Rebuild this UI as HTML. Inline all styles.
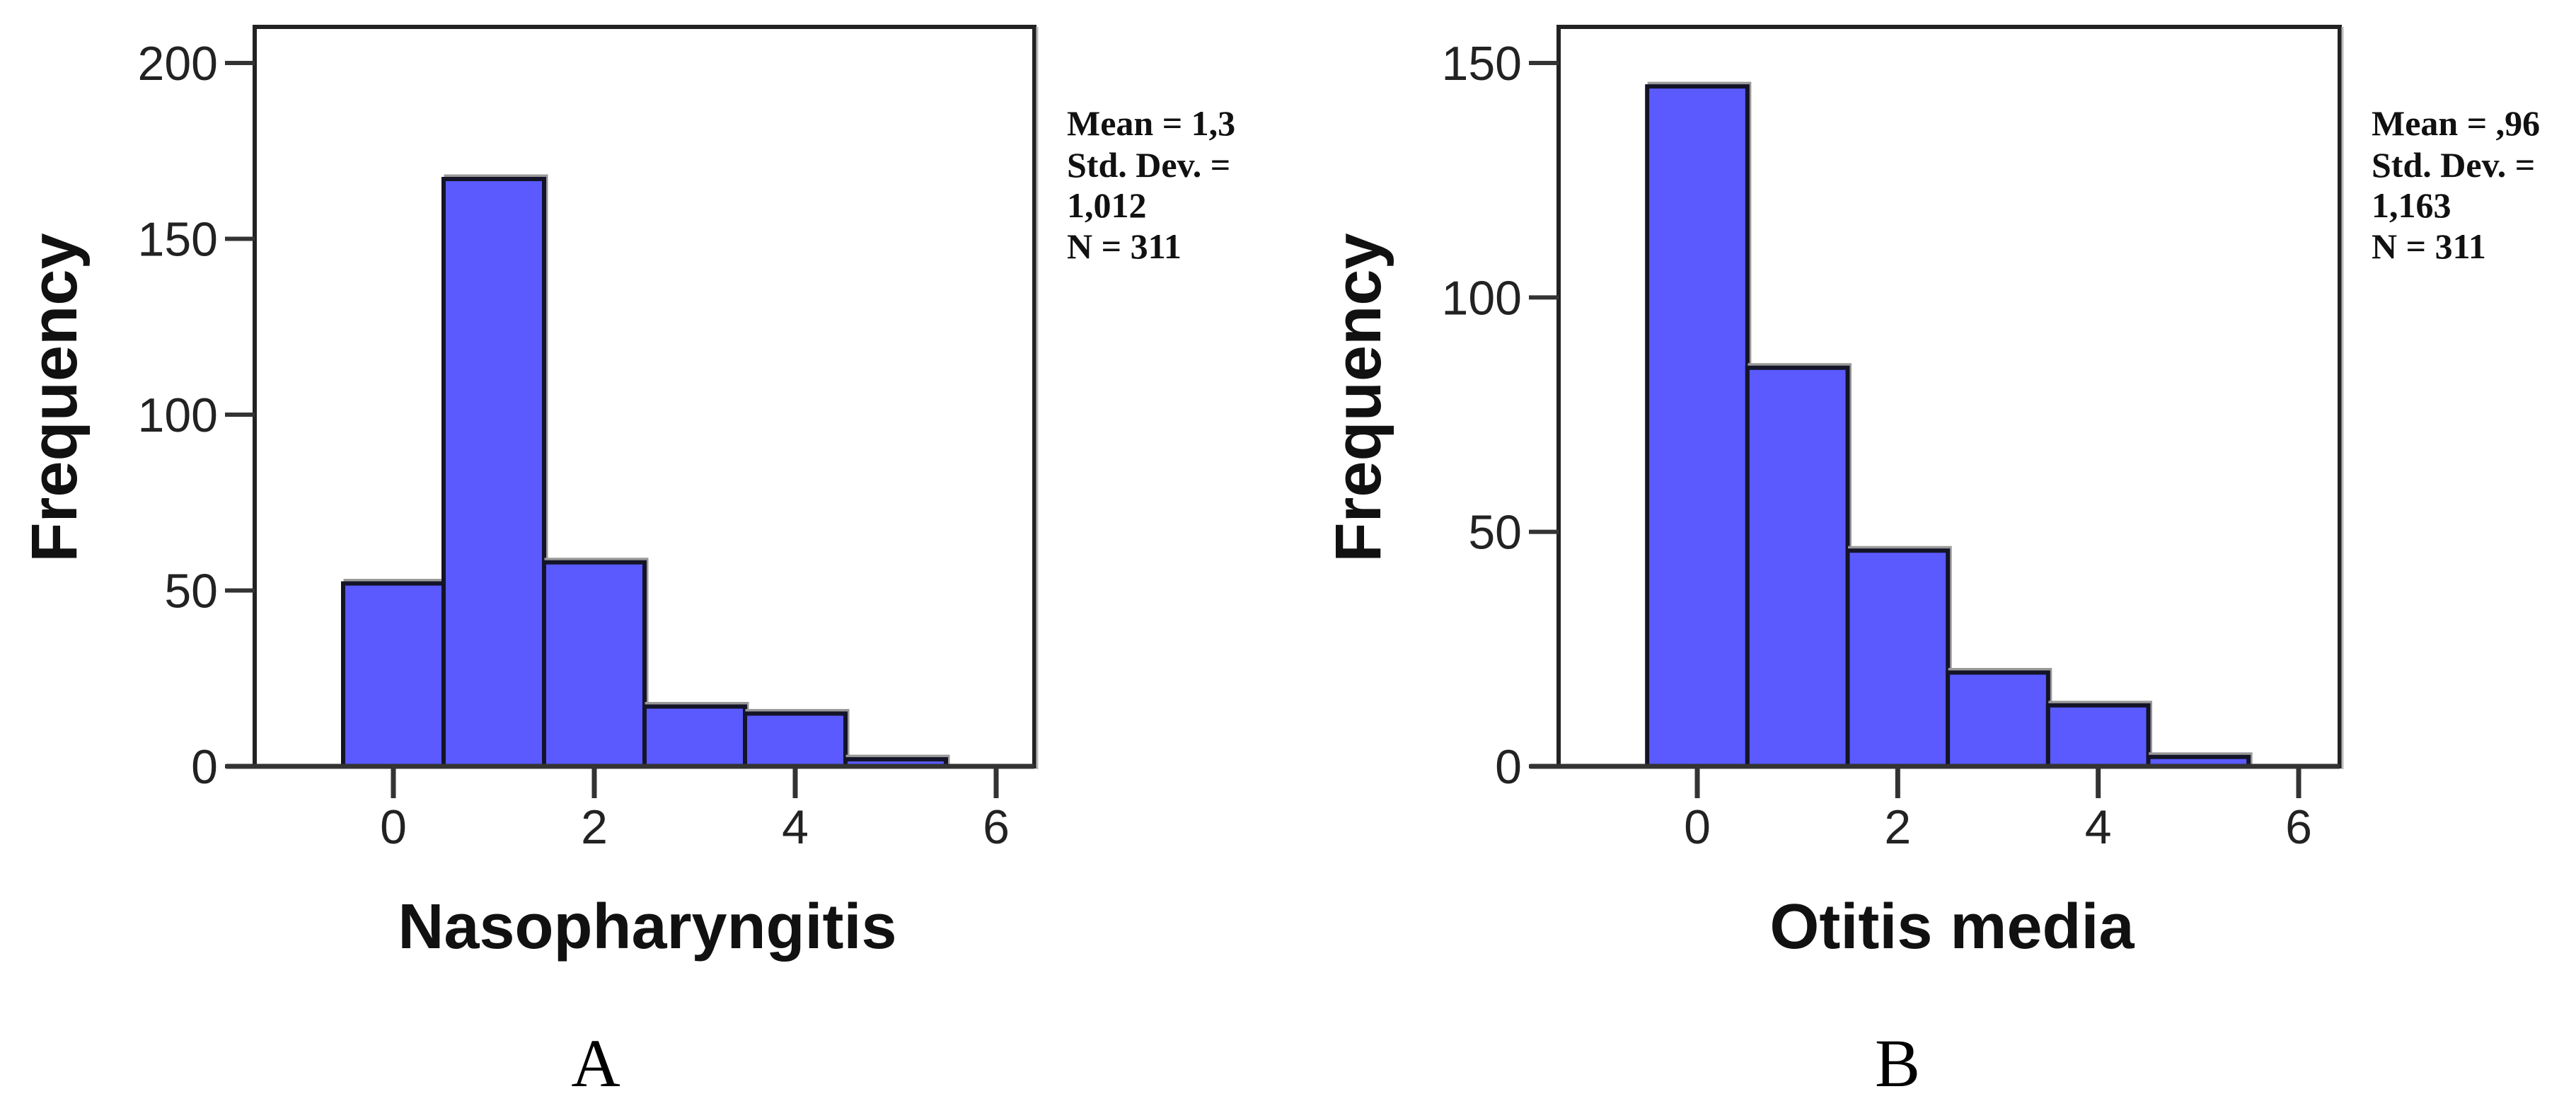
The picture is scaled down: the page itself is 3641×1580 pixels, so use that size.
<!DOCTYPE html>
<html><head><meta charset="utf-8"><style>
html,body{margin:0;padding:0;background:#fff;}
svg{display:block;}
</style></head><body>
<svg id="fig" width="3641" height="1580" viewBox="0 0 3641 1580" xmlns="http://www.w3.org/2000/svg"></svg>
<script>
const binCenters = [0,1,2,3,4,5];
const countsA = [52,167,58,17,15,2];
const countsB = [145,85,46,20,13,2];
const yTicksA = [0,50,100,150,200];
const yTicksB = [0,50,100,150];
const xTicks = [0,2,4,6];
const titleA = "Nasopharyngitis";
const titleB = "Otitis media";
const statsA = ["Mean = 1,3", "Std. Dev. =", "1,012", "N = 311"];
const statsB = ["Mean = ,96", "Std. Dev. =", "1,163", "N = 311"];

const NS = "http://www.w3.org/2000/svg";
const svg = document.getElementById('fig');
function mk(tag, attrs, parent){
  const e = document.createElementNS(NS, tag);
  for (const k in attrs) e.setAttribute(k, attrs[k]);
  (parent||svg).appendChild(e);
  return e;
}

function drawPanel(cfg){
  const g = mk('g', {});
  
  
  const xs = v => cfg.x0 + (v - 0) * (cfg.x6 - cfg.x0) / 6;
  const ys = v => cfg.yBase - v * (cfg.yBase - cfg.yTopTickPx) / cfg.yTopTick;

  const box = mk('rect', {x: cfg.left, y: 38, width: cfg.right - cfg.left, height: cfg.yBase - 38, fill: '#fff', stroke: '#222', 'stroke-width': 6}, g);
  
  
  mk('line', {x1: cfg.right + 4, y1: 38, x2: cfg.right + 4, y2: cfg.yBase + 4, stroke: '#bbb', 'stroke-width': 3}, g);

  cfg.counts.forEach((c, i) => {
    const xl = xs(binCenters[i] - 0.5), xr = xs(binCenters[i] + 0.5);
    const yt = ys(c);
    const sh = mk('rect', {x: xl + 3, y: yt - 4, width: xr - xl, height: cfg.yBase - yt + 4, fill: 'none', stroke: '#999', 'stroke-width': 5}, g);
    
    
    const b = mk('rect', {x: xl, y: yt, width: xr - xl, height: cfg.yBase - yt, fill: '#5a5aff', stroke: '#141428', 'stroke-width': 6}, g);
    
    
  });

  mk('line', {x1: cfg.left - 40, y1: cfg.yBase, x2: cfg.right, y2: cfg.yBase, stroke: '#333', 'stroke-width': 7}, g);

  cfg.yTicks.forEach(t => {
    const y = ys(t);
    const tk = mk('line', {x1: cfg.left - 42, y1: y, x2: cfg.left, y2: y, stroke: '#333', 'stroke-width': 6}, g);
    
    
    const tx = mk('text', {x: cfg.left - 52, y: y + 24, 'text-anchor': 'end', 'font-family': 'Liberation Sans, sans-serif', 'font-size': 68, fill: '#222'}, g);
    tx.textContent = t;
    
    
  });

  xTicks.forEach(t => {
    const x = xs(t);
    const tk = mk('line', {x1: x, y1: cfg.yBase, x2: x, y2: cfg.yBase + 45, stroke: '#333', 'stroke-width': 7}, g);
    
    
    const tx = mk('text', {x: x, y: 1192, 'text-anchor': 'middle', 'font-family': 'Liberation Sans, sans-serif', 'font-size': 68, fill: '#222'}, g);
    tx.textContent = t;
    
    
  });

  const yt = mk('text', {x: 0, y: 0, transform: 'translate(' + (cfg.freqX + 58) + ',562) rotate(-90)', 'text-anchor': 'middle', 'font-family': 'Liberation Sans, sans-serif', 'font-weight': 'bold', 'font-size': 92, fill: '#111'}, g);
  yt.textContent = 'Frequency';
  
  

  const xt = mk('text', {x: cfg.titleX, y: 1340, 'text-anchor': 'middle', 'font-family': 'Liberation Sans, sans-serif', 'font-weight': 'bold', 'font-size': 90, fill: '#111'}, g);
  xt.textContent = cfg.title;
  
  

  const pl = mk('text', {x: cfg.letterX, y: 1535, 'text-anchor': 'middle', 'font-family': 'Liberation Serif, serif', 'font-size': 96, fill: '#000'}, g);
  pl.textContent = cfg.letter;
  
  

  const cp = mk('clipPath', {id: cfg.id + '-clip'}, g);
  mk('rect', {x: cfg.statX - 5, y: 100, width: cfg.statClip - cfg.statX + 5, height: 300}, cp);
  const sg = mk('g', {'clip-path': 'url(#' + cfg.id + '-clip)'}, g);
  
  
  const bl = [191, 250, 307, 365];
  cfg.stats.forEach((s, i) => {
    const t = mk('text', {x: cfg.statX, y: bl[i], 'font-family': 'Liberation Serif, serif', 'font-weight': 'bold', 'font-size': 50, fill: '#111'}, sg);
    t.textContent = s;
    
    
  });
}

drawPanel({id: 'chart-a', left: 360, right: 1462, x0: 556, x6: 1408, yBase: 1083, yTopTick: 200, yTopTickPx: 89,
  counts: countsA, yTicks: yTicksA, title: titleA, titleX: 915, letter: 'A', letterX: 842, freqX: 50,
  stats: statsA, statX: 1508, statClip: 1766});
drawPanel({id: 'chart-b', left: 2203, right: 3307, x0: 2399, x6: 3249, yBase: 1083, yTopTick: 150, yTopTickPx: 89,
  counts: countsB, yTicks: yTicksB, title: titleB, titleX: 2759, letter: 'B', letterX: 2682, freqX: 1893,
  stats: statsB, statX: 3352, statClip: 3604});
</script>
</body></html>
